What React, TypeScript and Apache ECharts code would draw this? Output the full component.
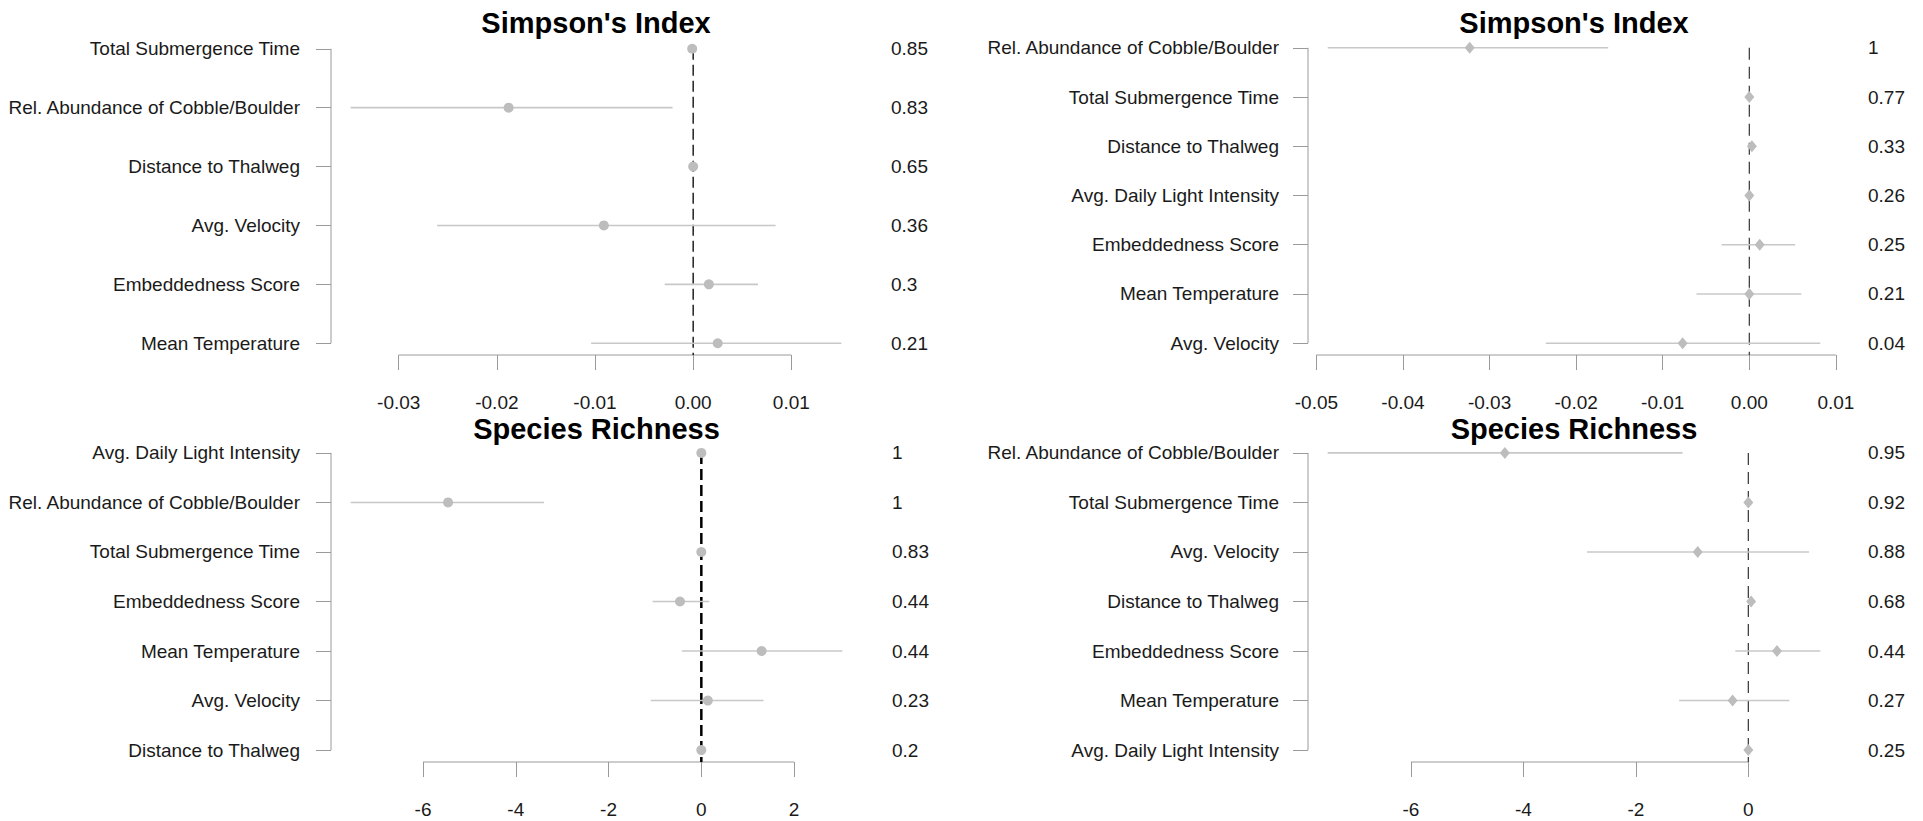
import React, { useEffect, useRef } from "react";
import * as echarts from "echarts";

// ---------- DATA ----------
const tlLabels = ["Total Submergence Time", "Rel. Abundance of Cobble/Boulder", "Distance to Thalweg", "Avg. Velocity", "Embeddedness Score", "Mean Temperature"];
const tlEst = [-0.0001, -0.0188, 0.0, -0.0091, 0.0016, 0.0025];
const tlLo = [-0.0003, -0.0349, -0.0002, -0.0261, -0.0029, -0.0104];
const tlHi = [0.0001, -0.0021, 0.0002, 0.0084, 0.0066, 0.0151];
const tlP = ["0.85", "0.83", "0.65", "0.36", "0.3", "0.21"];
const tlTicks = [-0.03, -0.02, -0.01, 0.0, 0.01];

const trLabels = ["Rel. Abundance of Cobble/Boulder", "Total Submergence Time", "Distance to Thalweg", "Avg. Daily Light Intensity", "Embeddedness Score", "Mean Temperature", "Avg. Velocity"];
const trEst = [-0.0323, 0.0, 0.0003, 0.0, 0.0012, 0.0, -0.0077];
const trLo = [-0.0487, -0.0002, 0.0001, -0.0002, -0.0032, -0.0061, -0.0235];
const trHi = [-0.0163, 0.0002, 0.0005, 0.0002, 0.0053, 0.006, 0.0082];
const trP = ["1", "0.77", "0.33", "0.26", "0.25", "0.21", "0.04"];
const trTicks = [-0.05, -0.04, -0.03, -0.02, -0.01, 0.0, 0.01];

const blLabels = ["Avg. Daily Light Intensity", "Rel. Abundance of Cobble/Boulder", "Total Submergence Time", "Embeddedness Score", "Mean Temperature", "Avg. Velocity", "Distance to Thalweg"];
const blEst = [0.0, -5.46, 0.0, -0.46, 1.3, 0.14, 0.0];
const blLo = [-0.02, -7.56, -0.02, -1.05, -0.42, -1.09, -0.02];
const blHi = [0.02, -3.39, 0.02, 0.17, 3.04, 1.34, 0.02];
const blP = ["1", "1", "0.83", "0.44", "0.44", "0.23", "0.2"];
const blTicks = [-6, -4, -2, 0, 2];

const brLabels = ["Rel. Abundance of Cobble/Boulder", "Total Submergence Time", "Avg. Velocity", "Distance to Thalweg", "Embeddedness Score", "Mean Temperature", "Avg. Daily Light Intensity"];
const brEst = [-4.33, 0.0, -0.9, 0.05, 0.51, -0.28, 0.0];
const brLo = [-7.48, -0.02, -2.87, 0.01, -0.23, -1.23, -0.02];
const brHi = [-1.17, 0.02, 1.08, 0.09, 1.28, 0.73, 0.02];
const brP = ["0.95", "0.92", "0.88", "0.68", "0.44", "0.27", "0.25"];
const brTicks = [-6, -4, -2, 0];

const FONT = '"Liberation Sans", Arial, Helvetica, sans-serif';
const AXIS_COLOR = "#9a9a9a";
const POINT_COLOR = "#bdbdbd";
const CI_COLOR = "#c8c8c8";
const TEXT_SIZE = 19;

type Panel = {
  title: string;
  labels: string[];
  est: number[];
  lo: number[];
  hi: number[];
  p: string[];
  ticks: number[];
  digits: number;
  left: number;
  top: number;
  width: number;
  height: number;
  titleTop: number;
  symbol: string;
  symbolSize: number;
  dashColor: string;
  dashWidth: number;
  dashType: number[];
  labelMargin: number;
  pMargin: number;
};

const panels: Panel[] = [
  { title: "Simpson's Index", labels: tlLabels, est: tlEst, lo: tlLo, hi: tlHi, p: tlP, ticks: tlTicks, digits: 2,
    left: 331, top: 37, width: 530, height: 318, titleTop: 8, symbol: "circle", symbolSize: 10,
    dashColor: "#000", dashWidth: 1.3, dashType: [11, 5], labelMargin: 31, pMargin: 30 },
  { title: "Simpson's Index", labels: trLabels, est: trEst, lo: trLo, hi: trHi, p: trP, ticks: trTicks, digits: 2,
    left: 1308, top: 36, width: 532, height: 319, titleTop: 8, symbol: "diamond", symbolSize: 11,
    dashColor: "#333", dashWidth: 1.2, dashType: [12, 7], labelMargin: 29, pMargin: 28 },
  { title: "Species Richness", labels: blLabels, est: blEst, lo: blLo, hi: blHi, p: blP, ticks: blTicks, digits: 0,
    left: 331, top: 441, width: 531, height: 321, titleTop: 414, symbol: "circle", symbolSize: 10,
    dashColor: "#000", dashWidth: 2.5, dashType: [11, 5], labelMargin: 31, pMargin: 30 },
  { title: "Species Richness", labels: brLabels, est: brEst, lo: brLo, hi: brHi, p: brP, ticks: brTicks, digits: 0,
    left: 1308, top: 441, width: 532, height: 321, titleTop: 414, symbol: "diamond", symbolSize: 11,
    dashColor: "#333", dashWidth: 1.2, dashType: [12, 7], labelMargin: 29, pMargin: 28 },
];

function buildOption() {
  const grid: any[] = [];
  const xAxis: any[] = [];
  const yAxis: any[] = [];
  const series: any[] = [];
  const title: any[] = [];

  panels.forEach((pn, i) => {
    const n = pn.labels.length;
    const dataMin = Math.min(...pn.lo);
    const dataMax = Math.max(...pn.hi);
    const xr = dataMax - dataMin;
    const xMin = dataMin - 0.04 * xr;
    const xMax = dataMax + 0.04 * xr;
    const yPad = 0.04 * (n - 1);
    const yMin = 1 - yPad;
    const yMax = n + yPad;
    const rows = pn.labels.map((_, k) => k + 1);

    grid.push({ left: pn.left, top: pn.top, width: pn.width, height: pn.height, containLabel: false });
    title.push({
      text: pn.title,
      left: pn.left + pn.width / 2,
      top: pn.titleTop,
      textAlign: "center",
      padding: 0,
      textStyle: { fontFamily: FONT, fontSize: 29, fontWeight: "bold", color: "#000" },
    });

    xAxis.push({
      type: "value",
      gridIndex: i,
      min: xMin,
      max: xMax,
      axisLine: { show: false, onZero: false },
      splitLine: { show: false },
      axisTick: { show: true, customValues: pn.ticks, length: 15, lineStyle: { color: AXIS_COLOR, width: 1 } },
      axisLabel: {
        customValues: pn.ticks,
        margin: 47,
        verticalAlign: "middle",
        fontFamily: FONT,
        fontSize: TEXT_SIZE,
        color: "#1a1a1a",
        formatter: (v: number) => (pn.digits > 0 ? v.toFixed(pn.digits) : String(Math.round(v))),
      },
    });

    yAxis.push({
      type: "value",
      gridIndex: i,
      inverse: true,
      min: yMin,
      max: yMax,
      axisLine: { show: false, onZero: false },
      splitLine: { show: false },
      axisTick: { show: true, customValues: rows, length: 15, lineStyle: { color: AXIS_COLOR, width: 1 } },
      axisLabel: {
        customValues: rows,
        margin: pn.labelMargin,
        fontFamily: FONT,
        fontSize: TEXT_SIZE,
        color: "#1a1a1a",
        formatter: (v: number) => pn.labels[Math.round(v) - 1] ?? "",
      },
    });
    yAxis.push({
      type: "value",
      gridIndex: i,
      position: "right",
      inverse: true,
      min: yMin,
      max: yMax,
      axisLine: { show: false, onZero: false },
      splitLine: { show: false },
      axisTick: { show: false },
      axisLabel: {
        customValues: rows,
        margin: pn.pMargin,
        align: "left",
        fontFamily: FONT,
        fontSize: TEXT_SIZE,
        color: "#1a1a1a",
        formatter: (v: number) => pn.p[Math.round(v) - 1] ?? "",
      },
    });

    const yLeft = 2 * i;
    const t0 = pn.ticks[0];
    const t1 = pn.ticks[pn.ticks.length - 1];

    // axis lines + reference dashed line
    series.push({
      type: "custom",
      xAxisIndex: i,
      yAxisIndex: yLeft,
      clip: false,
      silent: true,
      data: [[0, 1]],
      encode: { x: 0, y: 1 },
      renderItem: (_p: any, api: any) => {
        const a = api.coord([t0, yMax]);
        const b = api.coord([t1, yMax]);
        const c = api.coord([xMin, 1]);
        const d = api.coord([xMin, n]);
        const e = api.coord([0, 1]);
        const f = api.coord([0, yMax]);
        return {
          type: "group",
          children: [
            { type: "line", shape: { x1: a[0], y1: a[1], x2: b[0], y2: b[1] }, style: { stroke: AXIS_COLOR, lineWidth: 1 } },
            { type: "line", shape: { x1: c[0], y1: c[1], x2: d[0], y2: d[1] }, style: { stroke: AXIS_COLOR, lineWidth: 1 } },
            { type: "line", shape: { x1: e[0], y1: e[1], x2: f[0], y2: f[1] }, style: { stroke: pn.dashColor, lineWidth: pn.dashWidth, lineDash: pn.dashType } },
          ],
        };
      },
    });

    // confidence intervals
    series.push({
      type: "custom",
      xAxisIndex: i,
      yAxisIndex: yLeft,
      clip: false,
      silent: true,
      data: rows.map((r, k) => [r, pn.lo[k], pn.hi[k]]),
      encode: { x: [1, 2], y: 0 },
      renderItem: (_p: any, api: any) => {
        const y = api.value(0);
        const p1 = api.coord([api.value(1), y]);
        const p2 = api.coord([api.value(2), y]);
        return { type: "line", shape: { x1: p1[0], y1: p1[1], x2: p2[0], y2: p2[1] }, style: { stroke: CI_COLOR, lineWidth: 1.6 } };
      },
    });

    // point estimates
    series.push({
      type: "scatter",
      xAxisIndex: i,
      yAxisIndex: yLeft,
      symbol: pn.symbol,
      symbolSize: pn.symbol === "diamond" ? [pn.symbolSize - 1, pn.symbolSize + 1] : pn.symbolSize,
      itemStyle: { color: POINT_COLOR, opacity: 1 },
      silent: true,
      data: rows.map((r, k) => [pn.est[k], r]),
    });
  });

  return { animation: false, backgroundColor: "#ffffff", title, grid, xAxis, yAxis, series };
}

export default function App() {
  const ref = useRef<HTMLDivElement>(null);
  useEffect(() => {
    if (!ref.current) return;
    const chart = echarts.init(ref.current, null, { renderer: "svg" });
    chart.setOption(buildOption() as any);
    return () => chart.dispose();
  }, []);
  return (
    <div
      ref={ref}
      style={{ position: "fixed", left: 0, top: 0, width: 1923, height: 821, background: "#fff" }}
    />
  );
}
